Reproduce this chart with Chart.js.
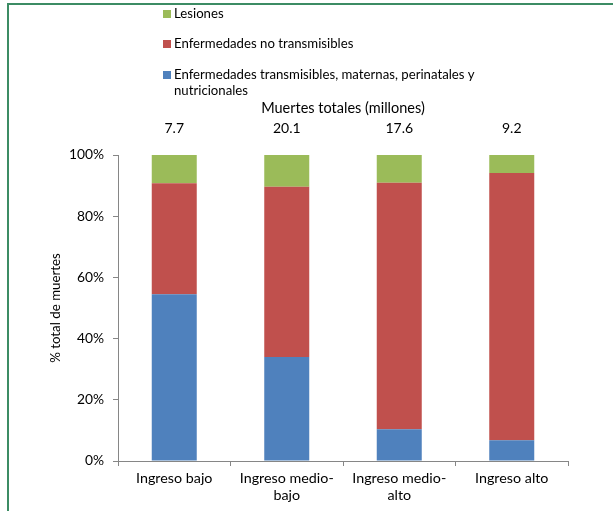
<!DOCTYPE html>
<html>
<head>
<meta charset="utf-8">
<script src="https://cdn.jsdelivr.net/npm/chart.js@4"></script>
<style>
  html, body { margin: 0; padding: 0; background: #fff; }
  #wrap { position: relative; width: 613px; height: 511px; }
  #frame { position: absolute; left: 7px; top: 3px; right: -5px; bottom: -5px;
           border-left: 2px solid #3c8c64; border-top: 2px solid #3c8c64; }
  canvas { position: absolute; left: 0; top: 0; }
</style>
</head>
<body>
<div id="wrap">
  <div id="frame"></div>
  <canvas id="c" width="613" height="511"></canvas>
</div>
<script>
// categorias (eje x) y totales de muertes
var categories = ["Ingreso bajo", ["Ingreso medio-", "bajo"], ["Ingreso medio-", "alto"], "Ingreso alto"];
var totals = ["7.7", "20.1", "17.6", "9.2"];

// % del total de muertes
var transmisibles = [54.5, 34.0, 10.4, 6.8];
var noTransmisibles = [36.3, 55.6, 80.5, 87.3];
var lesiones = [9.2, 10.4, 9.1, 5.9];

var yTicks = [0, 20, 40, 60, 80, 100];

var FONT = "Lato, 'Open Sans', sans-serif";

// leyenda propia (en orden inverso, con texto partido en lineas)
var legendPlugin = {
  id: "topLegend",
  afterDraw: function (chart) {
    var ctx = chart.ctx;
    var ds = chart.data.datasets.slice().reverse();
    var ys = [14, 44, 75];
    ctx.save();
    ctx.font = "13.2px " + FONT;
    ctx.textBaseline = "middle";
    ctx.textAlign = "left";
    for (var i = 0; i < ds.length; i++) {
      var y = ys[i];
      ctx.fillStyle = ds[i].backgroundColor;
      ctx.fillRect(163, y - 4, 8, 8);
      ctx.fillStyle = "#000";
      // word wrap
      var words = ds[i].label.split(" ");
      var line = "";
      var lines = [];
      words.forEach(function (w) {
        var test = line ? line + " " + w : w;
        if (ctx.measureText(test).width > 310 && line) {
          lines.push(line);
          line = w;
        } else {
          line = test;
        }
      });
      lines.push(line);
      lines.forEach(function (l, k) {
        ctx.fillText(l, 174, y + k * 16);
      });
    }
    ctx.restore();
  }
};

new Chart(document.getElementById("c"), {
  type: "bar",
  data: {
    labels: categories,
    datasets: [
      { label: "Enfermedades transmisibles, maternas, perinatales y nutricionales", data: transmisibles, backgroundColor: "#4f81bd" },
      { label: "Enfermedades no transmisibles", data: noTransmisibles, backgroundColor: "#c0504d" },
      { label: "Lesiones", data: lesiones, backgroundColor: "#9bbb59" }
    ]
  },
  options: {
    responsive: false,
    animation: false,
    layout: { padding: { left: 0, right: 45, top: 95, bottom: 0 } },
    datasets: { bar: { categoryPercentage: 1.0, barPercentage: 0.4 } },
    plugins: {
      legend: { display: false },
      tooltip: { enabled: false }
    },
    scales: {
      x: {
        stacked: true,
        position: "bottom",
        grid: { drawOnChartArea: false, offset: true, tickLength: 5, color: "#868686" },
        border: { color: "#868686" },
        ticks: { color: "#000", font: { family: FONT, size: 14.3 }, padding: 4, maxRotation: 0, autoSkip: false },
        afterFit: function (s) { s.height = 50; }
      },
      x2: {
        type: "category",
        labels: totals,
        position: "top",
        offset: true,
        grid: { display: false, drawTicks: false },
        border: { display: false },
        ticks: { color: "#000", font: { family: FONT, size: 14 }, padding: 18 },
        title: { display: true, text: "Muertes totales (millones)", color: "#000", font: { family: FONT, size: 14.5 }, padding: { top: 5, bottom: 0 } },
        afterFit: function (s) { s.height = 60; }
      },
      y: {
        stacked: true,
        min: 0,
        max: 100,
        afterBuildTicks: function (s) { s.ticks = yTicks.map(function (v) { return { value: v }; }); },
        grid: { drawOnChartArea: false, tickLength: 5, color: "#868686" },
        border: { color: "#868686" },
        ticks: { color: "#000", font: { family: FONT, size: 13.8 }, padding: 9, callback: function (v) { return v + "%"; } },
        title: { display: true, text: "% total de muertes", color: "#000", font: { family: FONT, size: 13.3 }, padding: { top: 48, bottom: 0 } },
        afterFit: function (s) { s.width = 118; }
      }
    }
  },
  plugins: [legendPlugin]
});
</script>
</body>
</html>
